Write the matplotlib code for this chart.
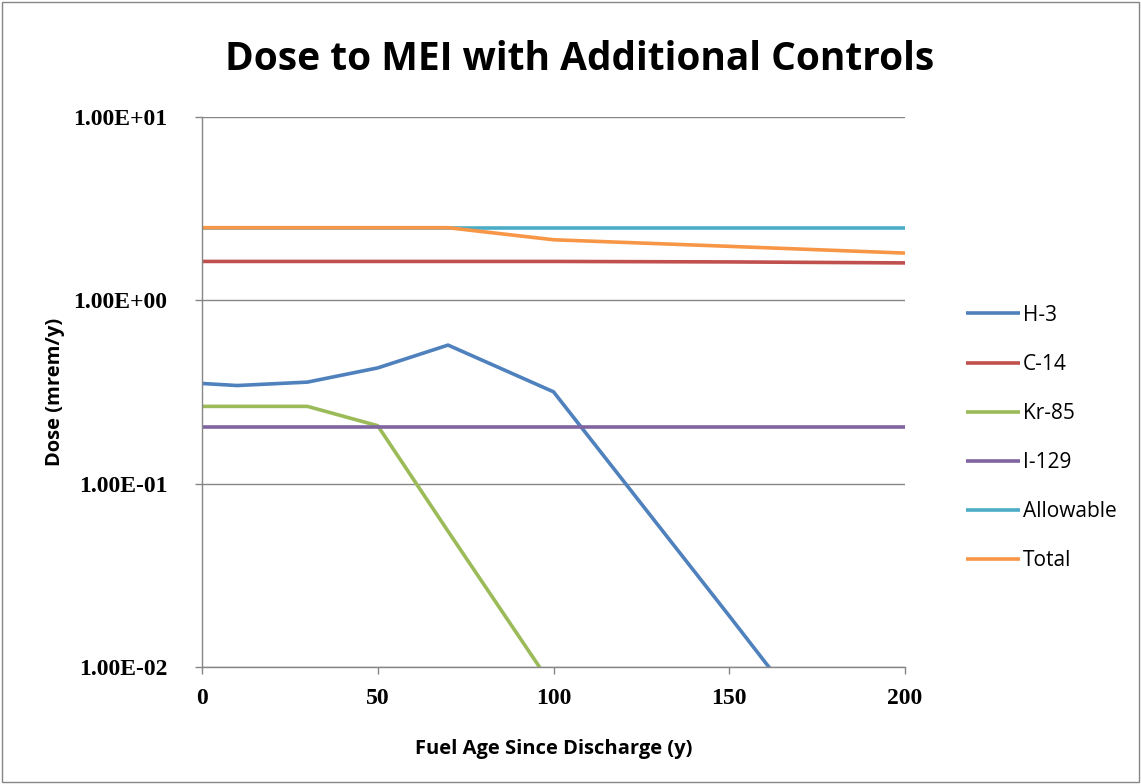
import matplotlib
matplotlib.use("Agg")
import matplotlib.pyplot as plt
from matplotlib.patches import Rectangle
from matplotlib.ticker import FixedLocator, FuncFormatter, NullLocator

plt.rcParams['font.family'] = ['Open Sans', 'DejaVu Sans']

# fuel age since discharge (y)
age = [0, 10, 30, 50, 70, 100, 150, 200]

# dose (mrem/y)
h3 = [0.352, 0.343, 0.358, 0.428, 0.570, 0.317, 0.019, 0.0011]
c14 = [1.63, 1.63, 1.63, 1.63, 1.63, 1.63, 1.62, 1.60]
kr85 = [0.264, 0.264, 0.264, 0.207, 0.055, 0.0077, 0.0003, 0.00001]
i129 = [0.205, 0.205, 0.205, 0.205, 0.205, 0.205, 0.205, 0.205]
allowable = [2.49, 2.49, 2.49, 2.49, 2.49, 2.49, 2.49, 2.49]
total = [2.49, 2.49, 2.49, 2.49, 2.49, 2.14, 1.97, 1.81]

series = [
    ("H-3", h3, "#4F81BD"),
    ("C-14", c14, "#C0504D"),
    ("Kr-85", kr85, "#9BBB59"),
    ("I-129", i129, "#8064A2"),
    ("Allowable", allowable, "#4BACC6"),
    ("Total", total, "#F79646"),
]

y_ticks = [0.01, 0.1, 1, 10]
x_ticks = [0, 50, 100, 150, 200]

fig = plt.figure(figsize=(11.41, 7.84), dpi=100)
ax = fig.add_axes([202 / 1141, 1 - 667 / 784, (905 - 202) / 1141, (667 - 117) / 784])

for name, vals, col in series:
    ax.plot(age, vals, color=col, lw=2.6, label=name, solid_capstyle='butt')

ax.set_yscale('log')
ax.set_ylim(0.01, 10)
ax.set_xlim(0, 200)
ax.yaxis.set_major_locator(FixedLocator(y_ticks))
ax.yaxis.set_minor_locator(NullLocator())
ax.yaxis.set_major_formatter(FuncFormatter(lambda v, p: f"{v:.2E}"))
ax.set_xticks(x_ticks)

ax.grid(axis='y', color='#868686', lw=1)
ax.set_axisbelow(True)
for s in ['top', 'right']:
    ax.spines[s].set_visible(False)
for s in ['left', 'bottom']:
    ax.spines[s].set_color('#868686')
    ax.spines[s].set_linewidth(1)
ax.tick_params(axis='both', colors='#868686', length=5, width=1, labelcolor='black')
for lab in ax.get_yticklabels() + ax.get_xticklabels():
    lab.set_fontfamily('Liberation Serif')
    lab.set_fontweight('bold')
    lab.set_fontsize(17)
ax.tick_params(axis='y', pad=20)
ax.tick_params(axis='x', pad=10)

ax.set_xlabel("Fuel Age Since Discharge (y)", fontsize=14.5, fontweight='bold', labelpad=22)
ax.set_ylabel("Dose (mrem/y)", fontsize=14.5, fontweight='bold', labelpad=6)
fig.text(580 / 1141, 1 - 60 / 784, "Dose to MEI with Additional Controls",
         ha='center', va='center', fontsize=28, fontweight='bold')

fig.legend(loc='center left', bbox_to_anchor=(947 / 1141, 1 - 438 / 784), frameon=False,
           fontsize=15, handlelength=2.6, handletextpad=0.15, labelspacing=1.35)

fig.patches.append(Rectangle((0.002, 0.002), 0.996, 0.996, transform=fig.transFigure,
                             fill=False, edgecolor='#868686', lw=1))

fig.savefig("out.png", dpi=100)
